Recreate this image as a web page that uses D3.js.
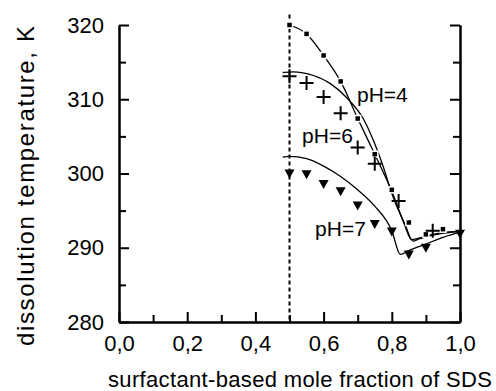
<!DOCTYPE html>
<html>
<head>
<meta charset="utf-8">
<script src="https://cdn.jsdelivr.net/npm/d3@7"></script>
<style>
  body { margin: 0; background: #fff; }
  text { font-family: Arial, "Liberation Sans", sans-serif; fill: #000; }
</style>
</head>
<body>
<div id="chart"></div>
<script>
// measured points
var ph4Points = [[0.5,320.0],[0.55,318.8],[0.6,315.9],[0.65,312.4],[0.7,307.4],[0.75,302.6],[0.8,297.8],[0.85,293.4],[0.9,291.8],[0.95,292.5]];
var ph6Points = [[0.5,313.1],[0.55,312.2],[0.6,310.3],[0.65,308.1],[0.7,303.5],[0.75,301.3],[0.82,296.3],[0.92,292.3]];
var ph7Points = [[0.5,300.0],[0.55,299.9],[0.6,298.6],[0.65,297.6],[0.7,295.7],[0.75,293.2],[0.8,292.2],[0.85,289.1],[0.9,290.0],[1.0,291.9]];

// calculated curves
var ph4Curve = [[0.5,320.0],[0.55,318.8],[0.6,315.9],[0.65,312.4],[0.7,307.4],[0.75,302.6],[0.8,297.6],[0.835,293.4],[0.858,291.1],[0.88,291.3],[0.92,291.8],[0.96,292.1],[1.0,292.2]];
var ph6Curve = [[0.48,313.6],[0.51,313.7],[0.57,313.2],[0.62,312.1],[0.67,310.1],[0.716,307.4],[0.75,304.0],[0.775,300.9],[0.8,297.3],[0.84,293.0],[0.862,290.9],[0.88,291.2],[0.92,291.7],[0.96,292.0],[1.0,292.2]];
var ph7Curve = [[0.48,302.2],[0.5,302.3],[0.55,302.0],[0.6,301.0],[0.65,299.6],[0.7,297.8],[0.75,295.6],[0.8,292.3],[0.825,289.1],[0.85,289.6],[0.9,290.5],[0.95,291.4],[1.0,292.1]];

var labels = [{text:"pH=4", x:0.698, y:309.6},{text:"pH=6", x:0.537, y:304.1},{text:"pH=7", x:0.575, y:291.6}];
var xTicks = [0,0.2,0.4,0.6,0.8,1.0];
var xMinor = [0.1,0.3,0.5,0.7,0.9];
var yTicks = [280,290,300,310,320];
var yMinor = [285,295,305,315];

var width = 496, height = 391;
var svg = d3.select("#chart").append("svg").attr("width", width).attr("height", height);

var x = d3.scaleLinear().domain([0,1]).range([119,460]);
var y = d3.scaleLinear().domain([280,320]).range([322,25]);
var comma = function (d) { return d3.format(".1f")(d).replace(".", ","); };

// axes
svg.append("g").attr("transform", "translate(" + x(0) + ",0)")
    .call(d3.axisLeft(y).tickValues(yTicks).tickSizeInner(-10).tickSizeOuter(0).tickPadding(15));
svg.append("g").attr("transform", "translate(" + x(0) + ",0)")
    .call(d3.axisLeft(y).tickValues(yMinor).tickSizeInner(-7).tickSizeOuter(0).tickFormat(""));
svg.append("g").attr("transform", "translate(" + x(1) + ",0)")
    .call(d3.axisLeft(y).tickValues(yTicks).tickSizeInner(10).tickSizeOuter(0).tickFormat(""));
svg.append("g").attr("transform", "translate(" + x(1) + ",0)")
    .call(d3.axisLeft(y).tickValues(yMinor).tickSizeInner(7).tickSizeOuter(0).tickFormat(""));
svg.append("g").attr("transform", "translate(0," + y(280) + ")")
    .call(d3.axisBottom(x).tickValues(xTicks).tickSizeInner(-10).tickSizeOuter(0).tickPadding(13).tickFormat(comma));
svg.append("g").attr("transform", "translate(0," + y(280) + ")")
    .call(d3.axisBottom(x).tickValues(xMinor).tickSizeInner(-7).tickSizeOuter(0).tickFormat(""));

svg.selectAll(".domain").attr("stroke", "#000").attr("stroke-width", 2);
svg.selectAll(".tick line").attr("stroke", "#000").attr("stroke-width", 2);
svg.selectAll(".tick text").style("font-size", "22px").attr("fill", "#000");

// dotted line at 0.5
svg.append("line")
    .attr("x1", x(0.5)).attr("x2", x(0.5))
    .attr("y1", y(321.4)).attr("y2", y(280))
    .attr("stroke", "#000").attr("stroke-width", 2).attr("stroke-dasharray", "4,3");

var line = d3.line().x(function (d) { return x(d[0]); }).y(function (d) { return y(d[1]); }).curve(d3.curveMonotoneX);

[ph4Curve, ph6Curve, ph7Curve].forEach(function (c) {
    svg.append("path").attr("d", line(c)).attr("fill", "none").attr("stroke", "#000").attr("stroke-width", 1.3);
});

// markers
svg.selectAll(".sq").data(ph4Points).enter().append("rect")
    .attr("x", function (d) { return x(d[0]) - 3; })
    .attr("y", function (d) { return y(d[1]) - 3; })
    .attr("width", 6).attr("height", 6)
    .attr("fill", "#000").attr("stroke", "#fff").attr("stroke-width", 1.5);

svg.selectAll(".cr").data(ph6Points).enter().append("path")
    .attr("transform", function (d) { return "translate(" + x(d[0]) + "," + y(d[1]) + ")"; })
    .attr("d", "M-7,0H7M0,-7V7")
    .attr("stroke", "#000").attr("stroke-width", 2);

svg.selectAll(".tr").data(ph7Points).enter().append("path")
    .attr("transform", function (d) { return "translate(" + x(d[0]) + "," + y(d[1]) + ")"; })
    .attr("d", "M-5,-4L5,-4L0,5Z")
    .attr("fill", "#000");

svg.selectAll(".lbl").data(labels).enter().append("text")
    .attr("x", function (d) { return x(d.x); })
    .attr("y", function (d) { return y(d.y); })
    .style("font-size", "21px")
    .text(function (d) { return d.text; });

// axis titles
svg.append("text")
    .attr("transform", "translate(34,186) rotate(-90)")
    .attr("text-anchor", "middle")
    .attr("textLength", 320).attr("lengthAdjust", "spacing")
    .style("font-size", "24px")
    .text("dissolution temperature, K");

svg.append("text")
    .attr("x", 300).attr("y", 387)
    .attr("text-anchor", "middle")
    .attr("textLength", 384).attr("lengthAdjust", "spacing")
    .style("font-size", "22px")
    .text("surfactant-based mole fraction of SDS");
</script>
</body>
</html>
